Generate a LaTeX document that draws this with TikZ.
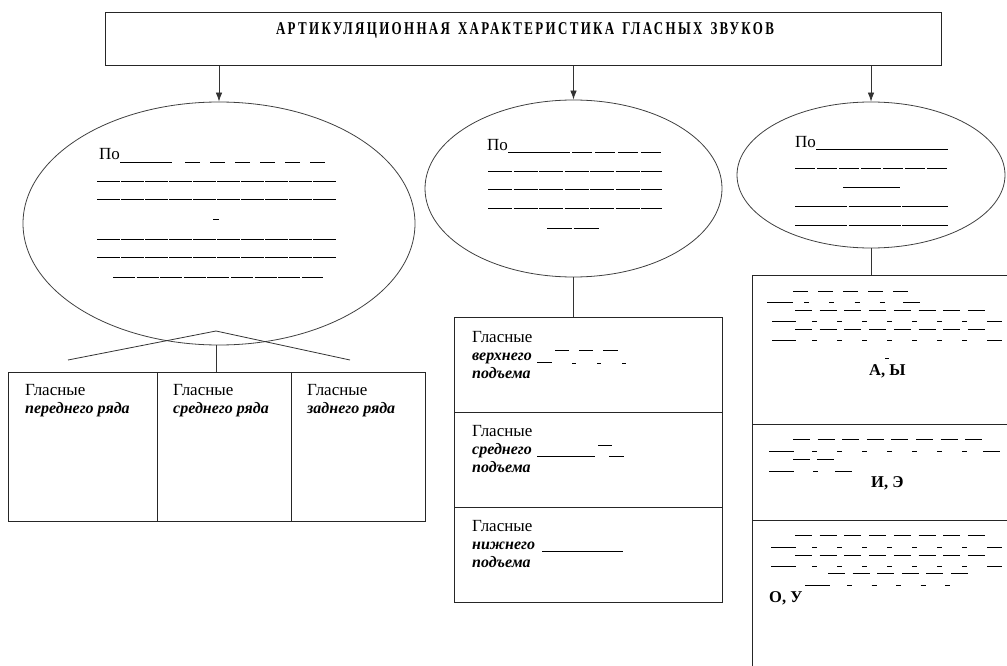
\documentclass[tikz,border=0pt]{standalone}
\usepackage{fontspec}
\setmainfont{Liberation Serif}
\newfontfamily\titlefont[FakeStretch=0.72,LetterSpace=13]{Liberation Serif Bold}
\usetikzlibrary{shapes.geometric,arrows.meta}
\newcommand\dashrow[5]{\foreach \k in {0,...,#4}{\draw[bl] ({#1+\k*#3},#5) -- ++(#2,0);}}
\begin{document}
\begin{tikzpicture}[x=1pt,y=-1pt,
  box/.style={draw=black!85,line width=0.9pt,inner sep=0pt,anchor=north west},
  oval/.style={draw=black!75,line width=0.8pt,ellipse,inner sep=0pt},
  conn/.style={draw=black!80,line width=0.8pt},
  arr/.style={conn,-{Latex[length=9pt,width=6.5pt]}},
  txt/.style={anchor=base west,inner sep=0pt,font=\fontsize{17}{18}\selectfont},
  bi/.style={anchor=base west,inner sep=0pt,font=\fontsize{16}{18}\selectfont\bfseries\itshape},
  bd/.style={anchor=base west,inner sep=0pt,font=\fontsize{16.5}{18}\selectfont\bfseries},
  bl/.style={line width=0.8pt,black},
  wavy/.style={bl,dash pattern=on 22.5pt off 1.5pt},
]
\useasboundingbox (0,0) rectangle (1007,666);
\clip (0,0) rectangle (1007,666);

% title box
\node[box,minimum width=836pt,minimum height=53pt] (title) at (105,12) {};
\node[anchor=base,inner sep=0pt] (ttext) at (525,35)
  {\titlefont\fontsize{18}{20}\selectfont АРТИКУЛЯЦИОННАЯ\hspace{8pt}ХАРАКТЕРИСТИКА\hspace{8pt}ГЛАСНЫХ\hspace{8pt}ЗВУКОВ};

% ellipses
\node[oval,minimum width=392pt,minimum height=243pt] (e1) at (219,223.5) {};
\node[oval,minimum width=297pt,minimum height=177pt] (e2) at (573.5,188.5) {};
\node[oval,minimum width=268pt,minimum height=146pt] (e3) at (871,175) {};

% arrows
\draw[arr] (title.south -| e1.north) -- (e1.north);
\draw[arr] (title.south -| e2.north) -- (e2.north);
\draw[arr] (title.south -| e3.north) -- (e3.north);

% left table
\node[box,minimum width=149pt,minimum height=149pt] (c1) at (8,372) {};
\node[box,minimum width=134pt,minimum height=149pt] (c2) at (157,372) {};
\node[box,minimum width=134pt,minimum height=149pt] (c3) at (291,372) {};
\coordinate (apex) at (216,331);
\coordinate (rl) at (68,360);
\coordinate (rr) at (350,360);
\draw[conn] (rl) -- (apex) -- (rr);
\draw[conn] (e1.south -| apex) -- (apex |- c2.north);

\node[txt] (t1a) at (25,395) {Гласные};
\node[bi]  (t1b) at (25,413) {переднего ряда};
\node[txt] (t2a) at (173,395) {Гласные};
\node[bi]  (t2b) at (173,413) {среднего ряда};
\node[txt] (t3a) at (307,395) {Гласные};
\node[bi]  (t3b) at (307,413) {заднего ряда};

% middle table
\node[box,minimum width=268pt,minimum height=95pt] (m1) at (454,317) {};
\node[box,minimum width=268pt,minimum height=95pt] (m2) at (454,412) {};
\node[box,minimum width=268pt,minimum height=95pt] (m3) at (454,507) {};
\draw[conn] (e2.south) -- (e2.south |- m1.north);

\node[txt] (m1a) at (472,342) {Гласные};
\node[bi]  (m1b) at (472,360) {верхнего};
\node[bi]  (m1c) at (472,378) {подъема};
\node[txt] (m2a) at (472,436) {Гласные};
\node[bi]  (m2b) at (472,454) {среднего};
\node[bi]  (m2c) at (472,472) {подъема};
\node[txt] (m3a) at (472,531) {Гласные};
\node[bi]  (m3b) at (472,549) {нижнего};
\node[bi]  (m3c) at (472,567) {подъема};

\draw[bl] (537,362) -- (552,362);
\draw[bl] (555,350) -- (569,350);
\draw[bl] (572,363) -- (576,363);
\draw[bl] (579,350) -- (593,350);
\draw[bl] (597,363) -- (601,363);
\draw[bl] (603,350) -- (618,350);
\draw[bl] (622,363) -- (626,363);
\draw[bl] (537,456) -- (595,456);
\draw[bl] (598,445) -- (612,445);
\draw[bl] (609,456) -- (624,456);
\draw[bl] (542,551) -- (623,551);

% right table
\node[box,minimum width=270pt,minimum height=149pt] (r1) at (752,275) {};
\node[box,minimum width=270pt,minimum height=96pt] (r2) at (752,424) {};
\node[box,minimum width=270pt,minimum height=160pt] (r3) at (752,520) {};
\draw[conn] (e3.south) -- (e3.south |- r1.north);

\node[bd] (ay) at (869,375) {А, Ы};
\node[bd] (ie) at (871,487) {И, Э};
\node[bd] (ou) at (769,602) {О, У};
\draw[bl] (885,358) -- (889,358);

% section 1
\dashrow{793}{15}{25}{4}{291}
\draw[bl] (767,302) -- (793,302); \dashrow{804}{5}{25.3}{3}{302} \draw[bl] (903,302) -- (920,302);
\dashrow{795}{17}{24.7}{7}{310}
\draw[bl] (772,321) -- (796,321); \dashrow{812}{5}{25}{6}{321} \draw[bl] (987,321) -- (1002,321);
\dashrow{795}{17}{24.7}{7}{329}
\draw[bl] (772,340) -- (796,340); \dashrow{812}{5}{25}{6}{340} \draw[bl] (987,340) -- (1002,340);
% section 2
\dashrow{793}{17}{24.6}{7}{439}
\draw[bl] (769,451) -- (794,451); \dashrow{812}{5}{25}{6}{451} \draw[bl] (983,451) -- (1000,451);
\dashrow{793}{17}{24}{1}{459}
\draw[bl] (769,471) -- (794,471); \dashrow{813}{5}{25}{0}{471} \draw[bl] (835,471) -- (852,471);
% section 3
\dashrow{795}{17}{24.7}{7}{535}
\draw[bl] (771,547) -- (796,547); \dashrow{812}{5}{25}{6}{547} \draw[bl] (987,547) -- (1002,547);
\dashrow{795}{17}{24.7}{7}{555}
\draw[bl] (771,566) -- (796,566); \dashrow{812}{5}{25}{6}{566} \draw[bl] (987,566) -- (1002,566);
\dashrow{828}{17}{24.6}{5}{573}
\draw[bl] (805,585) -- (830,585); \dashrow{847}{5}{24.5}{4}{585}

% left ellipse text
\node[txt] (p1) at (99,160) {По};
\draw[bl] (120,162) -- (172,162);
\dashrow{185}{15}{25}{5}{162}
\foreach \yy in {181,199,239,257} {\draw[wavy] (97,\yy) -- (337,\yy);}
\draw[bl] (213,219) -- (219,219);
\draw[bl,dash pattern=on 22pt off 1.6pt] (113,277) -- (323,277);

% middle ellipse text
\node[txt] (p2) at (487,150) {По};
\draw[bl] (508,152) -- (570,152);
\dashrow{572}{20}{23}{3}{152}
\foreach \yy in {171,189,208} {\draw[wavy,dash pattern=on 24pt off 1.5pt] (488,\yy) -- (662,\yy);}
\draw[bl,dash pattern=on 25pt off 1.5pt] (547,228) -- (600,228);

% right ellipse text
\node[txt] (p3) at (795,148) {По};
\draw[bl] (816,149) -- (948,149);
\draw[wavy,dash pattern=on 20pt off 2pt] (795,168) -- (948,168);
\draw[bl] (843,187) -- (900,187);
\draw[bl,dash pattern=on 52pt off 1.5pt] (795,206) -- (948,206);
\draw[bl,dash pattern=on 52pt off 1.5pt] (795,225) -- (948,225);
\end{tikzpicture}
\end{document}
